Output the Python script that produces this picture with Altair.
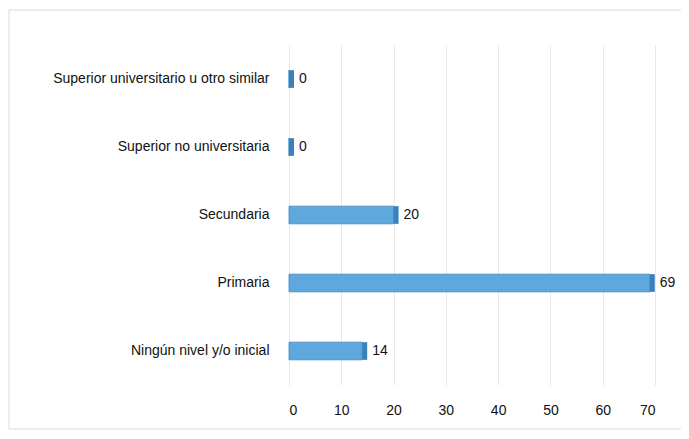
import altair as alt
import pandas as pd

categories = [
    "Superior universitario u otro similar",
    "Superior no universitaria",
    "Secundaria",
    "Primaria",
    "Ningún nivel y/o inicial",
]
values = [0, 0, 20, 69, 14]
x_ticks = [0, 10, 20, 30, 40, 50, 60, 70]

df = pd.DataFrame({"cat": categories, "val": values})

W, H = 366, 340

y_enc = alt.Y("cat:N", sort=categories, title=None,
              scale=alt.Scale(paddingInner=0.74, paddingOuter=0.37),
              axis=alt.Axis(domain=False, ticks=False, labelPadding=20,
                            labelFontSize=14, labelColor="#111111",
                            labelFont="Liberation Sans", labelLimit=300))
x_scale = alt.Scale(domain=[0, 70], nice=False)
x_enc = alt.X("val:Q", scale=x_scale, title=None,
              axis=alt.Axis(values=x_ticks, domain=False, ticks=False,
                            labelPadding=18, labelFontSize=14,
                            labelColor="#111111", labelFont="Liberation Sans",
                            grid=True, gridColor="#e8e8e8", gridWidth=1))

base = alt.Chart(df)

bars = base.mark_bar(color="#5ea8de", stroke="#4185bd", strokeWidth=0.8).encode(
    x=x_enc, y=y_enc
)

# side face: small darker strip at the bar end for the 3D look
side = base.mark_rect(color="#3a80bb", x2Offset=5).encode(
    x=alt.X("val:Q", scale=x_scale),
    x2=alt.X2("val:Q"),
    y=y_enc,
)

labels = base.mark_text(align="left", baseline="middle", dx=10,
                        fontSize=14, font="Liberation Sans",
                        color="#111111").encode(
    x=alt.X("val:Q", scale=x_scale), y=y_enc, text=alt.Text("val:Q")
)

frame = alt.Chart(pd.DataFrame({"a": [0]})).mark_rect(
    fill=None, stroke="#dadada", strokeWidth=1
).encode(
    x=alt.value(-280), x2=alt.value(W + 30),
    y=alt.value(-35), y2=alt.value(H + 44)
)

chart = alt.layer(bars, side, labels, frame).properties(
    width=W, height=H,
    autosize=alt.AutoSizeParams(type="none"),
    padding={"left": 281, "top": 37, "right": 26, "bottom": 46},
).configure_view(stroke=None)

chart.save("out.html", embed_options={"renderer": "svg", "actions": False})
